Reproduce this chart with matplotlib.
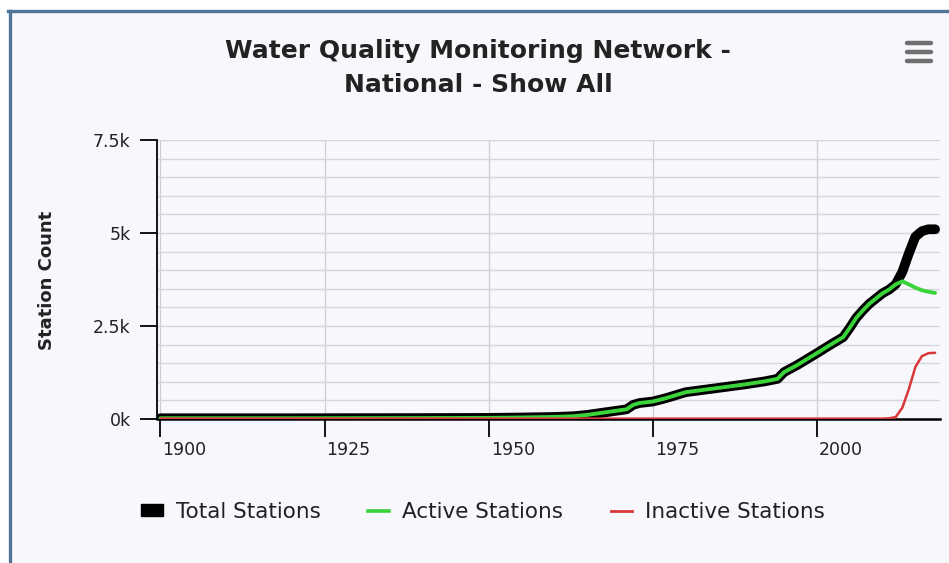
import matplotlib
matplotlib.use("Agg")
import matplotlib.pyplot as plt
from matplotlib.lines import Line2D
from matplotlib.patches import Patch, Rectangle
from matplotlib.ticker import MultipleLocator, FixedLocator
import matplotlib.transforms as mtransforms

# ---------------- data ----------------
years = [1900, 1920, 1940, 1950, 1955, 1960, 1963, 1965, 1967, 1969, 1971, 1972,
         1973, 1975, 1977, 1980, 1983, 1986, 1989, 1992, 1994, 1995, 1997, 2000,
         2002, 2004, 2005, 2006, 2007, 2008, 2009, 2010, 2011, 2012, 2013, 2014,
         2015, 2016, 2017, 2018]
total_stations = [20, 20, 25, 30, 40, 55, 75, 110, 160, 210, 260, 380,
                  430, 470, 560, 720, 790, 860, 930, 1010, 1080, 1260, 1450, 1770,
                  1990, 2200, 2450, 2720, 2920, 3100, 3240, 3380, 3480, 3620, 3950, 4450,
                  4900, 5050, 5100, 5100]
active_stations = [20, 20, 25, 30, 40, 55, 75, 110, 160, 210, 260, 380,
                   430, 470, 560, 720, 790, 860, 930, 1010, 1080, 1260, 1450, 1770,
                   1990, 2200, 2450, 2720, 2920, 3100, 3240, 3380, 3480, 3620, 3700, 3620,
                   3530, 3460, 3420, 3390]
inactive_stations = [10, 10, 10, 10, 10, 10, 10, 10, 10, 10, 10, 10,
                     10, 10, 10, 10, 10, 10, 10, 10, 10, 10, 10, 10,
                     10, 10, 10, 10, 10, 10, 10, 10, 20, 50, 300, 800,
                     1400, 1690, 1770, 1780]

title = "Water Quality Monitoring Network -\nNational - Show All"
y_label = "Station Count"
x_ticks = [1900, 1925, 1950, 1975, 2000]
y_ticks = [0, 2500, 5000, 7500]
y_tick_labels = ["0k", "2.5k", "5k", "7.5k"]
series_names = ["Total Stations", "Active Stations", "Inactive Stations"]

# ---------------- styling ----------------
plt.rcParams['font.family'] = ['DejaVu Sans']
BG = "#f7f7fc"
TXT = "#222222"
GREEN = "#3ad43a"
RED = "#d83838"

fig = plt.figure(figsize=(9.49, 5.63), dpi=100)
fig.patch.set_facecolor("white")
W, H = 949, 563

def fx(px):
    return px / W

def fy(py):
    return 1 - py / H

# chart panel background and border
fig.add_artist(Rectangle((fx(10), 0), 1 - fx(10), fy(11), transform=fig.transFigure,
                         facecolor=BG, edgecolor="none", zorder=0))
fig.add_artist(Line2D([fx(8), 1], [fy(11), fy(11)], transform=fig.transFigure,
                      color="#4f7599", lw=2.4, zorder=1))
fig.add_artist(Line2D([fx(10), fx(10)], [0, fy(11)], transform=fig.transFigure,
                      color="#4f7599", lw=2.4, zorder=1))

ax = fig.add_axes([fx(157), fy(419), fx(940) - fx(157), fy(140) - fy(419)])
ax.set_facecolor(BG)
ax.patch.set_alpha(0)

ax.plot(years, total_stations, color="black", lw=7.0, solid_capstyle="round",
        solid_joinstyle="round", zorder=3)
ax.plot(years, active_stations, color=GREEN, lw=2.8, solid_capstyle="round",
        solid_joinstyle="round", zorder=4)
ax.plot(years, inactive_stations, color=RED, lw=1.8, solid_capstyle="round",
        solid_joinstyle="round", zorder=5)

ax.set_xlim(1899.47, 2018.75)
ax.set_ylim(0, 7500)

ax.yaxis.set_major_locator(FixedLocator(y_ticks))
ax.set_yticklabels(y_tick_labels)
ax.yaxis.set_minor_locator(MultipleLocator(500))
ax.xaxis.set_major_locator(FixedLocator(x_ticks))
ax.set_xticklabels([str(t) for t in x_ticks])

ax.grid(axis="y", which="both", color="#d6d6e0", lw=1.0, zorder=0)
ax.grid(axis="x", which="major", color="#cdcdd6", lw=0.9, zorder=0)
ax.tick_params(axis="y", which="minor", length=0)
ax.tick_params(axis="y", which="major", length=12, width=1.3, color="black",
               labelsize=12.5, labelcolor=TXT, pad=7)
ax.tick_params(axis="x", which="major", length=13, width=1.3, color="black",
               labelsize=12.5, labelcolor=TXT, pad=3)
for lab in ax.get_xticklabels():
    lab.set_horizontalalignment("left")
    lab.set_transform(lab.get_transform() + mtransforms.ScaledTranslation(2 / 100, 0, fig.dpi_scale_trans))

for s in ["top", "right"]:
    ax.spines[s].set_visible(False)
ax.spines["left"].set_linewidth(1.3)
ax.spines["bottom"].set_linewidth(1.8)
ax.spines["left"].set_color("black")
ax.spines["bottom"].set_color("black")

# title & y label
fig.text(fx(478), fy(68), title, ha="center", va="center", fontsize=18,
         fontweight="bold", color=TXT, linespacing=1.52)
fig.text(fx(47), fy(280), y_label, ha="center", va="center", rotation=90,
         fontsize=13, fontweight="bold", color=TXT)

# hamburger menu icon
for yy in (43, 52, 61):
    fig.add_artist(Line2D([fx(907), fx(931)], [fy(yy), fy(yy)], transform=fig.transFigure,
                          color="#707070", lw=3.2, solid_capstyle="round"))

# legend
handles = [Patch(facecolor="black", edgecolor="black"),
           Line2D([], [], color=GREEN, lw=2.6),
           Line2D([], [], color=RED, lw=2.0)]
leg = fig.legend(handles, series_names, loc="center", ncol=3,
                 bbox_to_anchor=(fx(483), fy(512)), frameon=False, fontsize=15.5,
                 handlelength=1.0, handleheight=0.5, handletextpad=0.6,
                 columnspacing=2.2, labelcolor=TXT)

fig.savefig("out.png", dpi=100, facecolor=fig.get_facecolor())
